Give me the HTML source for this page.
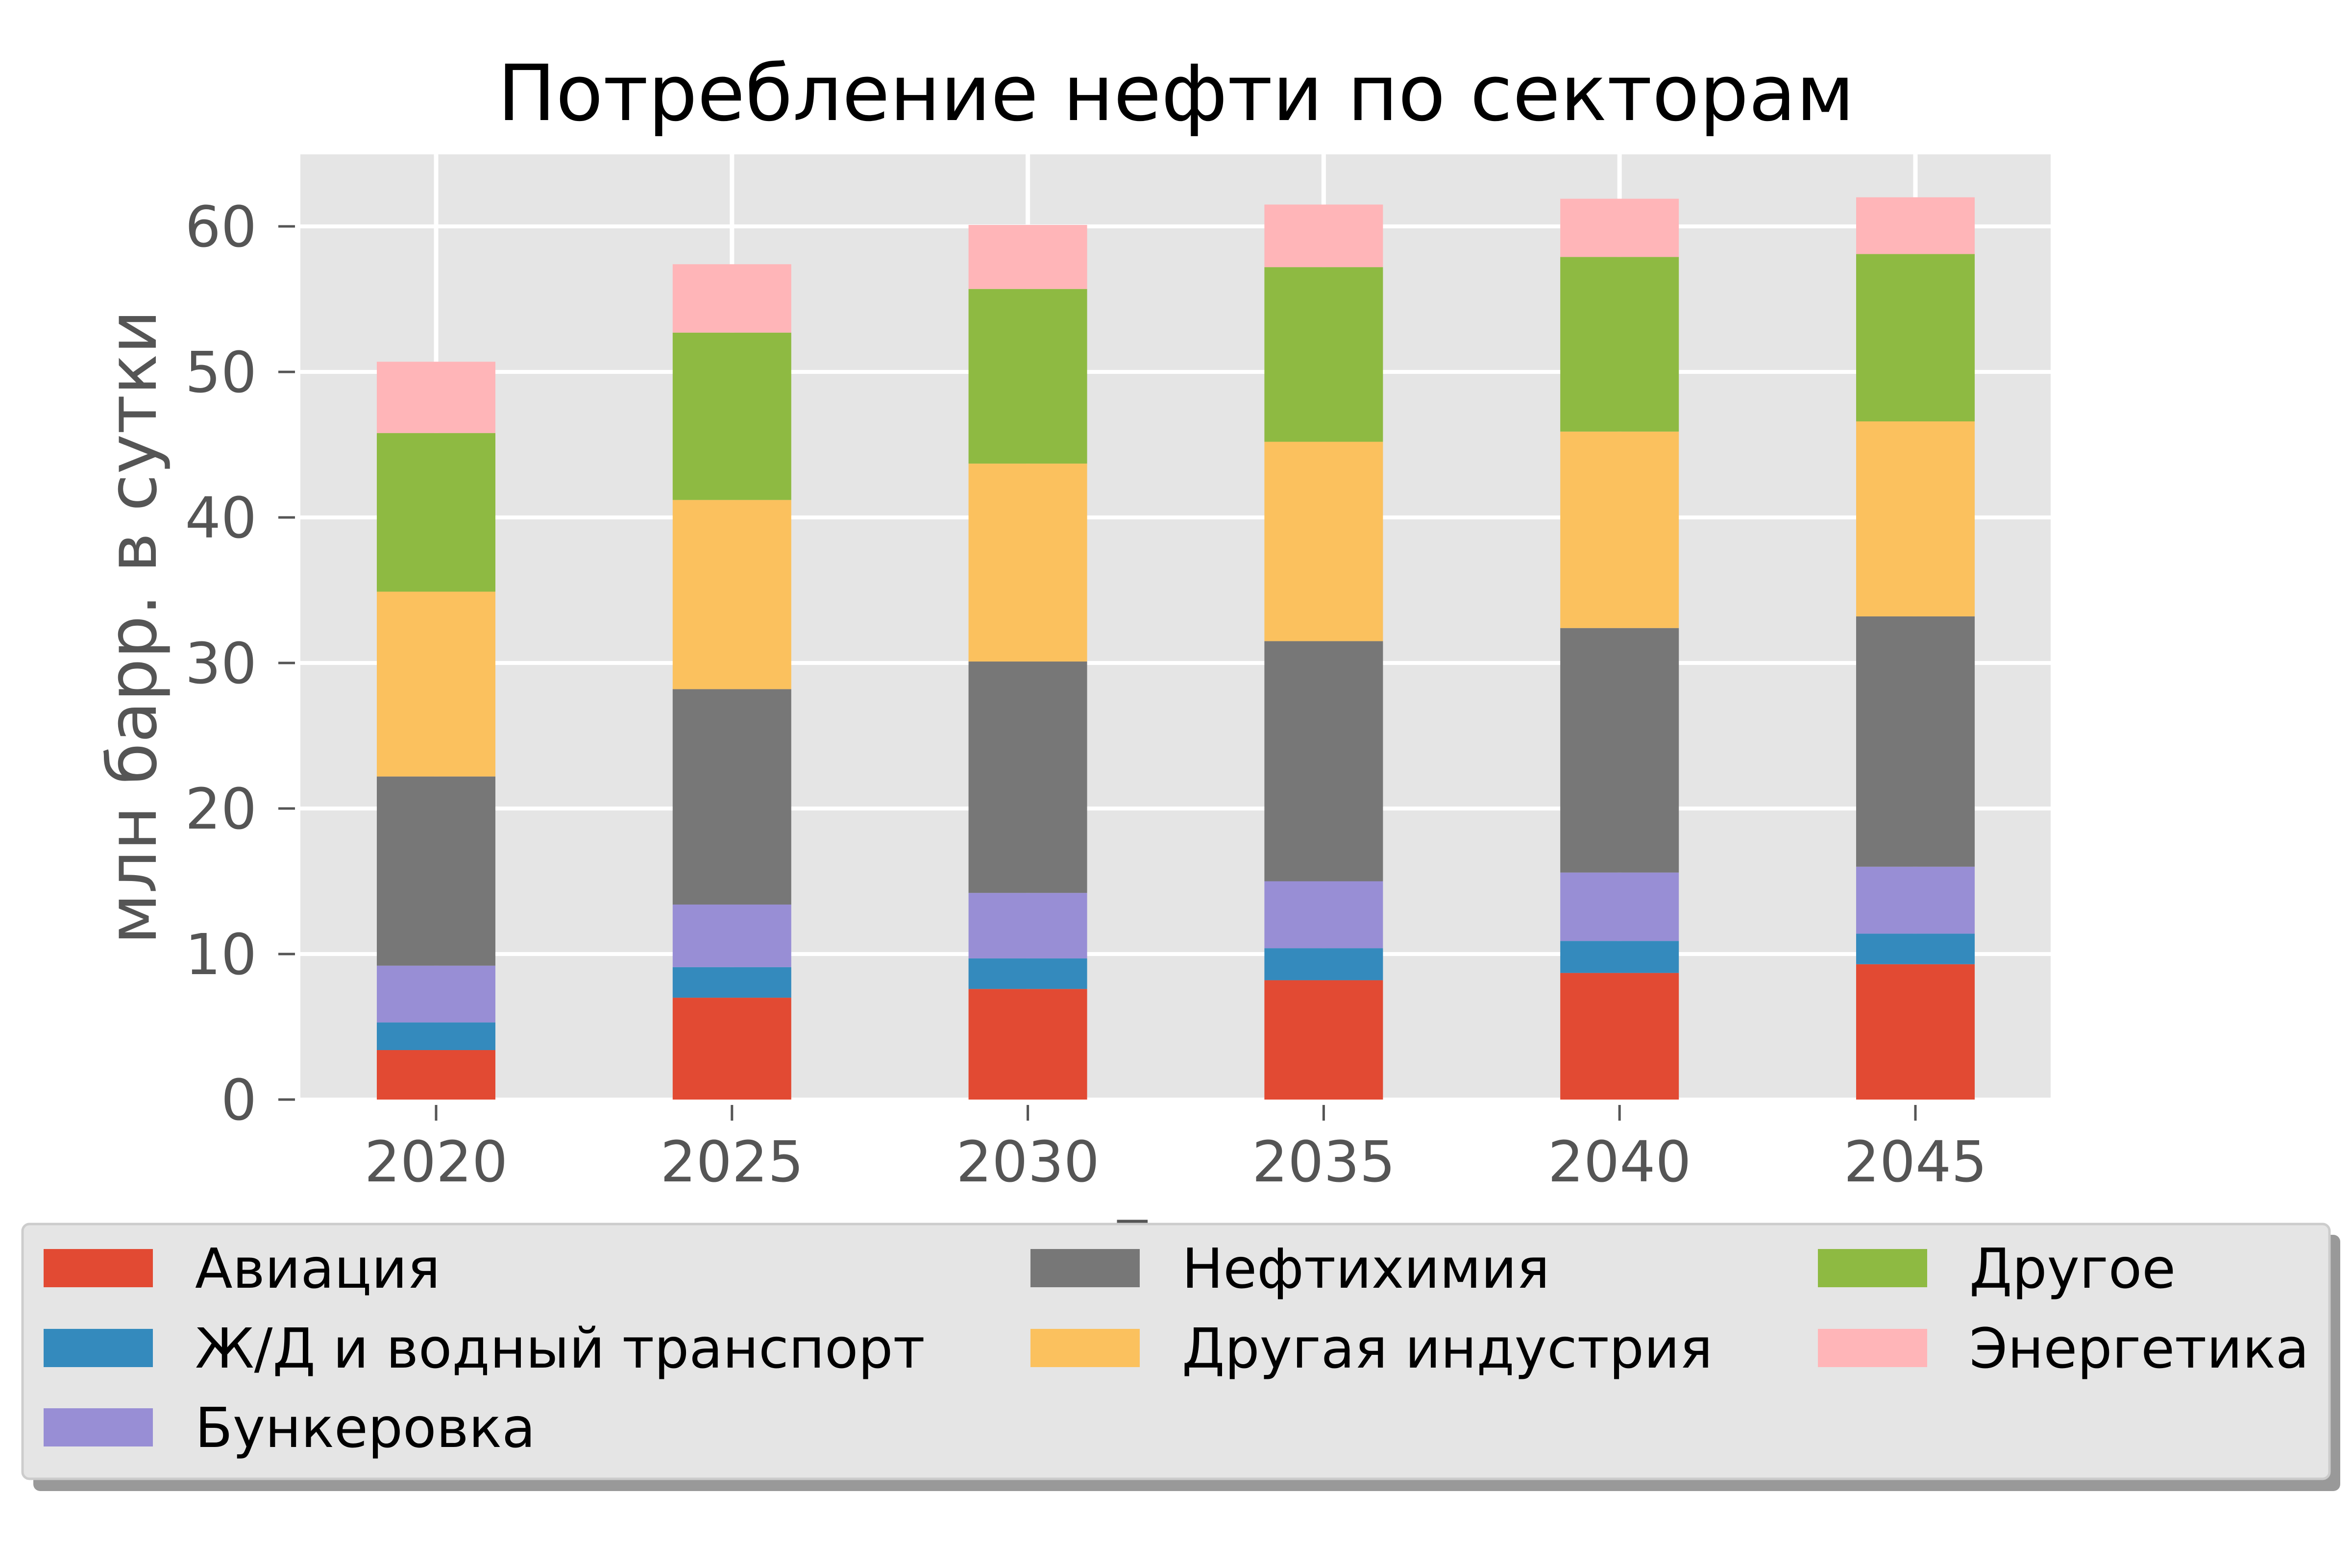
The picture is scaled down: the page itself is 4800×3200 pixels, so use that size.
<!DOCTYPE html>
<html><head><meta charset="utf-8"><style>
html,body{margin:0;padding:0;background:#fff;}
svg{display:block;font-family:"DejaVu Sans","Liberation Sans",sans-serif;}
</style></head><body>
<svg id="chart" width="4800" height="3200" viewBox="0 0 4800 3200" xmlns="http://www.w3.org/2000/svg">
<rect x="0" y="0" width="4800" height="3200" fill="#fff"/>
<text x="2400" y="245" font-size="158" text-anchor="middle" fill="#000">Потребление нефти по секторам</text>
<rect x="613" y="315" width="3572" height="1929" fill="#E5E5E5"/>
<g id="grid"></g><g id="bars"></g><g id="axes"></g>
<text transform="translate(318,1280) rotate(-90)" font-size="138" text-anchor="middle" fill="#555">млн барр. в сутки</text>
<text x="2398" y="2590" font-size="138" text-anchor="middle" fill="#555">Год</text>
<g id="legend">
<rect x="68" y="2520" width="4708" height="523" rx="14" fill="#999"/>
<rect x="46" y="2498" width="4708" height="520" rx="14" fill="#E5E5E5" stroke="#ccc" stroke-width="5"/>
</g>
</svg>
<script>
const years = ['2020','2025','2030','2035','2040','2045'];
const seriesNames = ['Авиация','Ж/Д и водный транспорт','Бункеровка','Нефтихимия','Другая индустрия','Другое','Энергетика'];
const aviation = [3.4, 7.0, 7.6, 8.2, 8.7, 9.3];
const railWater = [1.9, 2.1, 2.1, 2.2, 2.2, 2.1];
const bunkering = [3.9, 4.3, 4.5, 4.6, 4.7, 4.6];
const petrochem = [13.0, 14.8, 15.9, 16.5, 16.8, 17.2];
const otherIndustry = [12.7, 13.0, 13.6, 13.7, 13.5, 13.4];
const other = [10.9, 11.5, 12.0, 12.0, 12.0, 11.5];
const energy = [4.9, 4.7, 4.4, 4.3, 4.0, 3.9];
const yTicks = [0, 10, 20, 30, 40, 50, 60];

const series = [aviation, railWater, bunkering, petrochem, otherIndustry, other, energy];
const colors = ['#E24A33','#348ABD','#988ED5','#777777','#FBC15E','#8EBA42','#FFB5B8'];
const keys = ['aviation','rail-water','bunkering','petrochem','other-industry','other','energy'];
const NS = 'http://www.w3.org/2000/svg';
const plotLeft = 613, plotRight = 4185, plotTop = 315, plotBottom = 2244;
function yScale(v){ return plotBottom - v * (plotBottom - 462) / 60; }
function xScale(i){ return 890 + i * (3909 - 890) / 5; }
const barW = 242;
function mk(tag, attrs, parent){ const e = document.createElementNS(NS, tag); for (const k in attrs) e.setAttribute(k, attrs[k]); parent.appendChild(e); return e; }
const gridG = document.getElementById('grid'), barsG = document.getElementById('bars'), axesG = document.getElementById('axes');
yTicks.forEach(t => {
  const y = yScale(t);
  const l = mk('line', {x1:plotLeft, x2:plotRight, y1:y, y2:y, stroke:'#fff', 'stroke-width':8}, gridG);
  
  
  const tk = mk('line', {x1:568, x2:602, y1:y, y2:y, stroke:'#555', 'stroke-width':5}, axesG);
  
  
  const tx = mk('text', {x:524, y:y+41, 'font-size':115, 'text-anchor':'end', fill:'#555'}, axesG);
  tx.textContent = t;
  
  
});
years.forEach((yr, i) => {
  const x = xScale(i);
  const l = mk('line', {x1:x, x2:x, y1:plotTop, y2:plotBottom, stroke:'#fff', 'stroke-width':9}, gridG);
  
  
  const tk = mk('line', {x1:x, x2:x, y1:2255, y2:2287, stroke:'#555', 'stroke-width':5}, axesG);
  
  
  const tx = mk('text', {x:x, y:2411, 'font-size':115, 'text-anchor':'middle', fill:'#555'}, axesG);
  tx.textContent = yr;
  
  
  let cum = 0;
  series.forEach((s, k) => {
    const y0 = yScale(cum), y1 = yScale(cum + s[i]);
    cum += s[i];
    const r = mk('rect', {x:x - barW/2, y:y1, width:barW, height:y0 - y1, fill:colors[k]}, barsG);
    
    
  });
});
const legendG = document.getElementById('legend');
const colX = [89, 2103, 3710];
const rowY = [2549, 2712, 2874];
const order = [[0,0],[0,1],[0,2],[1,0],[1,1],[2,0],[2,1]];
seriesNames.forEach((name, k) => {
  const [c, r] = order[k];
  const p = mk('rect', {x:colX[c], y:rowY[r], width:223, height:78, fill:colors[k]}, legendG);
  
  
  const t = mk('text', {x:colX[c] + 309, y:rowY[r] + 79, 'font-size':112, fill:'#000'}, legendG);
  t.textContent = name;
  
  
});
</script>
</body></html>
